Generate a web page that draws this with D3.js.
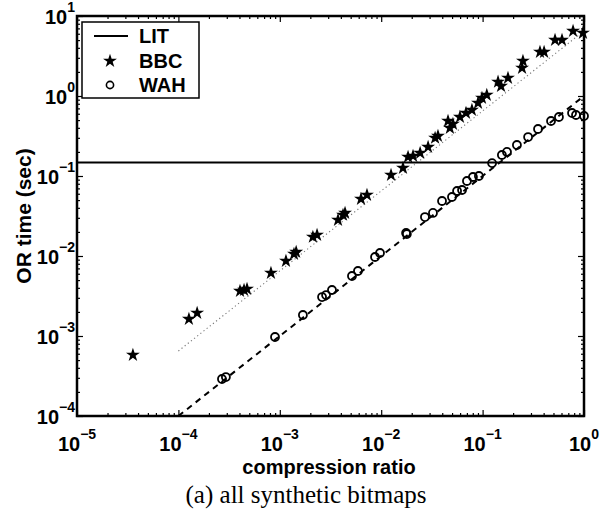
<!DOCTYPE html>
<html>
<head>
<meta charset="utf-8">
<script src="https://cdn.jsdelivr.net/npm/d3@7"></script>
<style>
  html, body { margin: 0; padding: 0; background: #fff; }
  svg { display: block; }
  .bold { font-family: "Liberation Sans", Arial, Helvetica, sans-serif; font-weight: bold; }
</style>
</head>
<body>
<svg id="chart" width="605" height="510"></svg>
<script>
// ---------------- data ----------------
const xTickExponents = [-5, -4, -3, -2, -1, 0];
const yTickExponents = [-4, -3, -2, -1, 0, 1];

const litValue = 0.148;

const bbcX = [3.56e-5, 1.27e-4, 1.53e-4, 4.05e-4, 4.44e-4, 4.75e-4, 8.18e-4, 1.15e-3, 1.38e-3, 1.45e-3,
  2.12e-3, 2.33e-3, 3.75e-3, 4.20e-3, 4.40e-3, 6.32e-3, 7.24e-3, 1.25e-2, 1.64e-2, 1.84e-2,
  2.06e-2, 2.42e-2, 2.90e-2, 3.40e-2, 3.63e-2, 4.56e-2, 4.76e-2, 5.10e-2, 5.98e-2, 6.86e-2,
  7.85e-2, 9.01e-2, 9.86e-2, 0.110, 0.142, 0.152, 0.178, 0.250, 0.245, 0.368,
  0.404, 0.518, 0.607, 0.780, 0.977];
const bbcY = [5.79e-4, 1.63e-3, 1.94e-3, 3.65e-3, 3.76e-3, 3.87e-3, 6.13e-3, 8.66e-3, 1.06e-2, 1.12e-2,
  1.73e-2, 1.83e-2, 2.82e-2, 3.26e-2, 3.45e-2, 5.16e-2, 5.79e-2, 0.103, 0.126, 0.173,
  0.178, 0.194, 0.230, 0.299, 0.316, 0.487, 0.398, 0.447, 0.546, 0.613,
  0.668, 0.818, 0.944, 1.03, 1.50, 1.33, 1.68, 2.74, 2.24, 3.55,
  3.55, 5.01, 5.01, 6.49, 6.13];

const wahX = [2.69e-4, 2.94e-4, 8.97e-4, 1.69e-3, 2.61e-3, 2.86e-3, 3.27e-3, 5.15e-3, 5.90e-3, 8.69e-3,
  9.73e-3, 1.76e-2, 1.79e-2, 2.70e-2, 3.24e-2, 3.98e-2, 4.99e-2, 5.60e-2, 6.27e-2, 7.01e-2,
  8.03e-2, 9.20e-2, 0.124, 0.155, 0.174, 0.218, 0.281, 0.352, 0.473, 0.566,
  0.762, 0.834, 1.0];
const wahY = [2.90e-4, 3.07e-4, 9.72e-4, 1.83e-3, 3.07e-3, 3.25e-3, 3.76e-3, 5.62e-3, 6.49e-3, 9.72e-3,
  1.09e-2, 1.94e-2, 1.88e-2, 3.07e-2, 3.45e-2, 4.87e-2, 5.46e-2, 6.49e-2, 6.68e-2, 8.66e-2,
  9.72e-2, 0.100, 0.145, 0.183, 0.200, 0.244, 0.307, 0.387, 0.487, 0.546,
  0.613, 0.579, 0.562];

// fitted reference lines (endpoints)
const bbcFitX = [1e-4, 1];
const bbcFitY = [6.5e-4, 6.5];
const wahFitX = [1e-4, 1];
const wahFitY = [1e-4, 1];

const legendLabels = ["LIT", "BBC", "WAH"];

// ---------------- layout ----------------
const svg = d3.select("#chart");
const L = 77, R = 584, T = 16, B = 416;

const x = d3.scaleLog().domain([1e-5, 1]).range([L, R]);
const y = d3.scaleLog().domain([1e-4, 10]).range([B, T]);

const majorX = xTickExponents.map(e => Math.pow(10, e));
const majorY = yTickExponents.map(e => Math.pow(10, e));
function minors(exps) {
  const out = [];
  for (let i = 0; i < exps.length - 1; i++) {
    for (let k = 2; k <= 9; k++) out.push(k * Math.pow(10, exps[i]));
  }
  return out;
}
const minorX = minors(xTickExponents);
const minorY = minors(yTickExponents);

// ---------------- axes ticks (inward) ----------------
function drawAxis(axisGen, tx, ty) {
  const g = svg.append("g").attr("transform", `translate(${tx},${ty})`).call(axisGen);
  g.select(".domain").remove();
  g.selectAll("text").remove();
  g.selectAll("line").attr("stroke", "#000").attr("stroke-width", 1.2);
  return g;
}
const MAJ = 6, MIN = 3;
drawAxis(d3.axisBottom(x).tickValues(majorX).tickSizeInner(-MAJ).tickSizeOuter(0).tickFormat(""), 0, B);
drawAxis(d3.axisBottom(x).tickValues(minorX).tickSizeInner(-MIN).tickSizeOuter(0).tickFormat(""), 0, B);
drawAxis(d3.axisTop(x).tickValues(majorX).tickSizeInner(-MAJ).tickSizeOuter(0).tickFormat(""), 0, T);
drawAxis(d3.axisTop(x).tickValues(minorX).tickSizeInner(-MIN).tickSizeOuter(0).tickFormat(""), 0, T);
drawAxis(d3.axisLeft(y).tickValues(majorY).tickSizeInner(-MAJ).tickSizeOuter(0).tickFormat(""), L, 0);
drawAxis(d3.axisLeft(y).tickValues(minorY).tickSizeInner(-MIN).tickSizeOuter(0).tickFormat(""), L, 0);
drawAxis(d3.axisRight(y).tickValues(majorY).tickSizeInner(-MAJ).tickSizeOuter(0).tickFormat(""), R, 0);
drawAxis(d3.axisRight(y).tickValues(minorY).tickSizeInner(-MIN).tickSizeOuter(0).tickFormat(""), R, 0);

// ---------------- fit lines ----------------
const line = d3.line().x(d => x(d[0])).y(d => y(d[1]));
svg.append("path")
  .datum(bbcFitX.map((v, i) => [v, bbcFitY[i]]))
  .attr("d", line).attr("fill", "none")
  .attr("stroke", "#777").attr("stroke-width", 1.1).attr("stroke-dasharray", "1.2,2.8");
svg.append("path")
  .datum(wahFitX.map((v, i) => [v, wahFitY[i]]))
  .attr("d", line).attr("fill", "none")
  .attr("stroke", "#000").attr("stroke-width", 2).attr("stroke-dasharray", "6,5");

// LIT line
svg.append("line")
  .attr("x1", x(1e-5)).attr("x2", x(1))
  .attr("y1", y(litValue)).attr("y2", y(litValue))
  .attr("stroke", "#000").attr("stroke-width", 2);

// ---------------- markers ----------------
const star = d3.symbol().type(d3.symbolStar).size(60);
svg.append("g").selectAll("path")
  .data(bbcX.map((v, i) => [v, bbcY[i]]))
  .join("path")
  .attr("d", star)
  .attr("transform", d => `translate(${x(d[0])},${y(d[1])})`)
  .attr("fill", "#000");

svg.append("g").selectAll("circle")
  .data(wahX.map((v, i) => [v, wahY[i]]))
  .join("circle")
  .attr("cx", d => x(d[0])).attr("cy", d => y(d[1]))
  .attr("r", 4)
  .attr("fill", "none").attr("stroke", "#000").attr("stroke-width", 1.8);

// ---------------- frame ----------------
svg.append("rect")
  .attr("x", L).attr("y", T).attr("width", R - L).attr("height", B - T)
  .attr("fill", "none").attr("stroke", "#000").attr("stroke-width", 2.5);

// ---------------- tick labels ----------------
const fsMain = 20, fsExp = 14, expShift = 12;
function expLabel(e) { return (e < 0 ? "\u2212" : "") + Math.abs(e); }

xTickExponents.forEach(e => {
  const t = svg.append("text").attr("class", "bold")
    .attr("x", x(Math.pow(10, e))).attr("y", 451)
    .attr("text-anchor", "middle").attr("font-size", fsMain);
  t.append("tspan").text("10");
  t.append("tspan").attr("dy", -expShift).attr("font-size", fsExp).text(expLabel(e));
});
yTickExponents.forEach(e => {
  const t = svg.append("text").attr("class", "bold")
    .attr("x", 75).attr("y", y(Math.pow(10, e)) + 8)
    .attr("text-anchor", "end").attr("font-size", fsMain);
  t.append("tspan").text("10");
  t.append("tspan").attr("dy", -expShift).attr("font-size", fsExp).text(expLabel(e));
});

// axis labels
svg.append("text").attr("class", "bold")
  .attr("x", 329).attr("y", 474).attr("text-anchor", "middle")
  .attr("font-size", 20).text("compression ratio");
svg.append("text").attr("class", "bold")
  .attr("transform", "translate(31,216) rotate(-90)")
  .attr("text-anchor", "middle").attr("font-size", 21).text("OR time (sec)");

// caption
svg.append("text")
  .attr("x", 306).attr("y", 503).attr("text-anchor", "middle")
  .attr("font-family", "'Liberation Serif', 'Times New Roman', serif")
  .attr("font-size", 25).text("(a) all synthetic bitmaps");

// ---------------- legend ----------------
const lg = svg.append("g");
lg.append("rect").attr("x", 82).attr("y", 22).attr("width", 117).attr("height", 76)
  .attr("fill", "#fff").attr("stroke", "#000").attr("stroke-width", 1.5);
const rowY = [36, 61, 85];
lg.append("line").attr("x1", 94).attr("x2", 128).attr("y1", rowY[0]).attr("y2", rowY[0])
  .attr("stroke", "#000").attr("stroke-width", 2);
lg.append("path").attr("d", star).attr("transform", `translate(110,${rowY[1]})`).attr("fill", "#000");
lg.append("circle").attr("cx", 110).attr("cy", rowY[2]).attr("r", 3.6)
  .attr("fill", "none").attr("stroke", "#000").attr("stroke-width", 1.6);
legendLabels.forEach((s, i) => {
  lg.append("text").attr("class", "bold").attr("x", 139).attr("y", rowY[i] + 7)
    .attr("font-size", 20).text(s);
});
</script>
</body>
</html>
